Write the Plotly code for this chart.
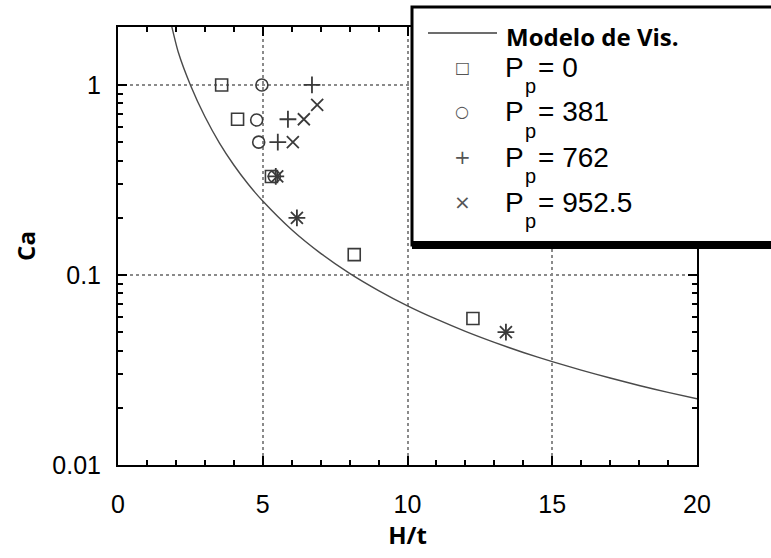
import plotly.graph_objects as go

# ---------------- data ----------------
model_x = [1.86, 2.08, 2.5, 3.0, 3.5, 4.0, 4.5, 5.0, 6.0, 7.0, 8.0, 9.0, 10.0,
           11.0, 12.0, 13.0, 14.0, 15.0, 16.0, 17.0, 18.0, 19.0, 20.0]
model_ca = [2.02, 1.49, 1.00, 0.682, 0.496, 0.379, 0.300, 0.245, 0.173, 0.130, 0.102, 0.0828, 0.0688,
            0.0585, 0.0505, 0.0442, 0.0391, 0.0350, 0.0316, 0.0287, 0.0262, 0.0241, 0.0223]

p0_x = [3.58, 4.13, 5.3, 8.16, 12.26]
p0_ca = [1.0, 0.66, 0.33, 0.128, 0.059]

p381_x = [4.97, 4.79, 4.86, 5.4]
p381_ca = [1.0, 0.654, 0.50, 0.33]

p762_x = [6.7, 5.87, 5.52, 5.45, 6.18, 13.4]
p762_ca = [1.0, 0.66, 0.50, 0.33, 0.20, 0.05]

p952_x = [6.88, 6.42, 6.04, 5.5, 6.18, 13.4]
p952_ca = [0.785, 0.66, 0.50, 0.33, 0.20, 0.05]

x_ticks = [0, 5, 10, 15, 20]
y_ticks = [0.01, 0.1, 1]
y_ticktext = ["0.01", "0.1", "1"]

legend_labels = ["Modelo de Vis.", "0", "381", "762", "952.5"]
legend_glyphs = ["\u25a1", "\u25cb", "+", "\u00d7"]

# ---------------- geometry helpers (pixel -> paper) ----------------
W, H = 771, 558
L, R, T, B = 118, 697, 27, 465


def px(x):
    return (x - L) / (R - L)


def py(y):
    return (B - y) / (B - T)


MK = "#3a3a3a"
fig = go.Figure()

fig.add_trace(go.Scatter(x=model_x, y=model_ca, mode="lines",
                         line=dict(color="#4a4a4a", width=1.4, shape="spline", smoothing=0.6),
                         showlegend=False, hoverinfo="skip"))
fig.add_trace(go.Scatter(x=p0_x, y=p0_ca, mode="markers",
                         marker=dict(symbol="square-open", size=12, color=MK, line=dict(width=1.6, color=MK)),
                         showlegend=False))
fig.add_trace(go.Scatter(x=p381_x, y=p381_ca, mode="markers",
                         marker=dict(symbol="circle-open", size=12, color=MK, line=dict(width=1.6, color=MK)),
                         showlegend=False))
fig.add_trace(go.Scatter(x=p762_x, y=p762_ca, mode="markers",
                         marker=dict(symbol="cross-thin-open", size=12, color=MK, line=dict(width=1.8, color=MK)),
                         showlegend=False))
fig.add_trace(go.Scatter(x=p952_x, y=p952_ca, mode="markers",
                         marker=dict(symbol="x-thin-open", size=12, color=MK, line=dict(width=1.8, color=MK)),
                         showlegend=False))

tickfont = dict(family="Liberation Sans, Arial, sans-serif", size=25, color="black")
titlefont = dict(family="Open Sans, sans-serif", size=24, color="black", weight="bold")

fig.update_xaxes(range=[0, 20], tickvals=x_ticks, ticks="inside", ticklen=9, tickwidth=1.5,
                 tickcolor="black", showline=True, linewidth=2, linecolor="black", mirror="ticks",
                 showgrid=True, gridcolor="#8a8a8a", griddash="dot", gridwidth=1.6,
                 minor=dict(dtick=1, ticks="inside", ticklen=5, tickcolor="black", showgrid=False),
                 tickfont=tickfont, ticklabelstandoff=16, zeroline=False,
                 title=dict(text="<b>H/t</b>", font=titlefont, standoff=2))
fig.update_yaxes(type="log", range=[-2, 0.305], tickvals=y_ticks, ticktext=y_ticktext,
                 ticks="inside", ticklen=9, tickwidth=1.5, tickcolor="black",
                 showline=True, linewidth=2, linecolor="black", mirror="ticks",
                 showgrid=True, gridcolor="#8a8a8a", griddash="dot", gridwidth=1.6,
                 minor=dict(dtick="D1", ticks="inside", ticklen=5, tickcolor="black", showgrid=False),
                 tickfont=tickfont, ticklabelstandoff=10, zeroline=False,
                 title=dict(text="<b>Ca</b>", font=titlefont, standoff=10))

# ---------------- legend box (drawn manually) ----------------
shapes = [
    dict(type="rect", xref="paper", yref="paper", x0=px(412), x1=px(800), y0=py(245), y1=py(7),
         line=dict(color="black", width=3), fillcolor="white", layer="above"),
    dict(type="rect", xref="paper", yref="paper", x0=px(412), x1=px(800), y0=py(249), y1=py(241),
         line=dict(width=0), fillcolor="black", layer="above"),
    dict(type="line", xref="paper", yref="paper", x0=px(428), x1=px(497), y0=py(33), y1=py(33),
         line=dict(color="#3c3c3c", width=1.6), layer="above"),
]

annotations = [
    dict(text="<b>" + legend_labels[0] + "</b>", xref="paper", yref="paper", x=px(505), y=py(36.5),
         xanchor="left", yanchor="middle", showarrow=False, borderpad=0,
         font=dict(family="Open Sans, sans-serif", size=24, color="black")),
]
lab_font = dict(family="Liberation Sans, Arial, sans-serif", size=28, color="black")
for i, (g, lab) in enumerate(zip(legend_glyphs, legend_labels[1:])):
    yc = 67 + 45 * i
    annotations.append(dict(text=g, xref="paper", yref="paper", x=px(462), y=py(yc),
                            xanchor="center", yanchor="middle", showarrow=False,
                            font=dict(family="DejaVu Sans, sans-serif", size=16 if i < 2 else 20, color="#555555")))
    annotations.append(dict(text="P", xref="paper", yref="paper", x=px(504), y=py(yc),
                            xanchor="left", yanchor="middle", showarrow=False, font=lab_font,
                            borderpad=0))
    annotations.append(dict(text="p", xref="paper", yref="paper", x=px(524), y=py(yc + 19),
                            xanchor="left", yanchor="middle", showarrow=False, borderpad=0,
                            font=dict(family="Liberation Sans, Arial, sans-serif", size=20, color="black")))
    annotations.append(dict(text="= " + lab, xref="paper", yref="paper", x=px(537), y=py(yc),
                            xanchor="left", yanchor="middle", showarrow=False, font=lab_font,
                            borderpad=0))

fig.update_layout(width=W, height=H, margin=dict(l=L, r=W - R, t=T, b=H - B),
                  paper_bgcolor="white", plot_bgcolor="white",
                  shapes=shapes, annotations=annotations, showlegend=False)

fig.write_html("out.html")
